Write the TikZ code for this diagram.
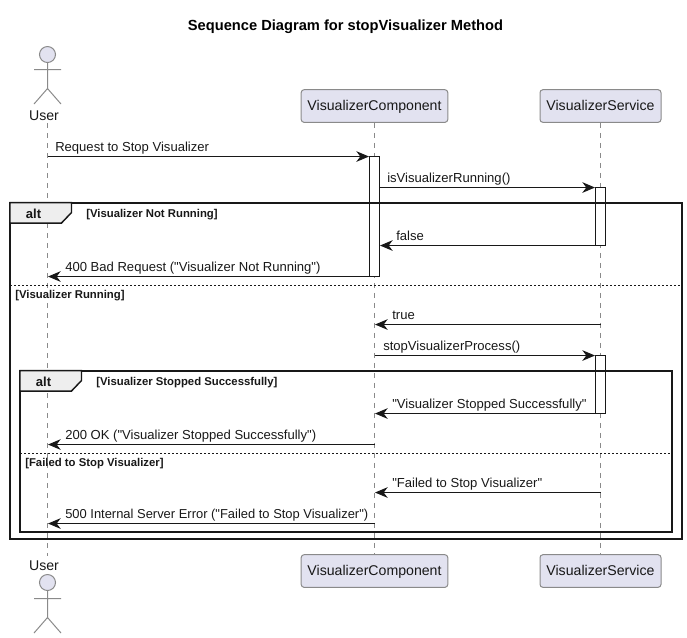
\documentclass[tikz,border=0pt]{standalone}
\usepackage{fontspec}
\setmainfont{Liberation Sans}[Ligatures=TeXOff]
\usetikzlibrary{arrows.meta}
\definecolor{headfill}{HTML}{E2E2F0}
\definecolor{headline}{HTML}{8A8A8A}
\definecolor{ink}{HTML}{181818}
\definecolor{tabfill}{HTML}{EEEEEE}
\tikzset{
  x=0.75pt,y=-0.75pt,
  head/.style={draw=headline,fill=headfill,rounded corners=2.2pt,line width=0.75pt,minimum height=24.5pt,inner sep=0pt,text height=8.2pt,text depth=1.4pt,font=\fontsize{10.6pt}{12pt}\selectfont,text=ink},
  life/.style={draw=headline,line width=0.75pt,dash pattern=on 3.75pt off 3.75pt},
  actorline/.style={draw=headline,line width=0.75pt},
  activ/.style={draw=ink,fill=white,line width=0.75pt,outer sep=0pt,inner sep=0pt,minimum width=7.5pt},
  msg/.style={draw=ink,line width=0.75pt,-{Stealth[length=9.5pt,width=8pt,inset=3pt]},shorten >=0.4pt},
  msglabel/.style={anchor=base west,inner sep=0pt,font=\fontsize{9.8pt}{12pt}\selectfont,text=ink},
  frameb/.style={draw=ink,line width=1.5pt},
  divider/.style={draw=ink,line width=0.75pt,dash pattern=on 1.5pt off 1.5pt},
  tabb/.style={draw=ink,fill=tabfill,line width=1.1pt},
  tabtext/.style={inner sep=0pt,font=\bfseries\fontsize{9.8pt}{12pt}\selectfont,text=ink},
  guard/.style={anchor=base west,inner sep=0pt,font=\bfseries\fontsize{8.5pt}{10pt}\selectfont,text=ink},
  actorname/.style={inner sep=0pt,font=\fontsize{10.6pt}{12pt}\selectfont,text=ink},
}
\begin{document}
\begin{tikzpicture}
\useasboundingbox (0,0) rectangle (687,638);
\begin{scope}[yshift=-0.4pt]
\node[inner sep=0pt,font=\bfseries\fontsize{11pt}{13pt}\selectfont] (title) at (345.5,26) {Sequence Diagram for stopVisualizer Method};

% heads
\node[head,minimum width=110pt] (compT) at (374.5,105.5) {VisualizerComponent};
\node[head,minimum width=90.75pt] (servT) at (600.5,105.5) {VisualizerService};
\node[head,minimum width=110pt] (compB) at (374.5,570.5) {VisualizerComponent};
\node[head,minimum width=90.75pt] (servB) at (600.5,570.5) {VisualizerService};
\node[actorname] (userT) at (44,115.5) {User};
\node[actorname] (userB) at (44,565.5) {User};

% lifelines
\draw[life] (compT) -- (compB);
\draw[life] (servT) -- (servB);
\draw[life] (userT.south -| 47.5,0) ++(0,2) coordinate (uTop) -- (47.5,555) coordinate (uBot);

% actors
\draw[actorline,fill=headfill] (47.5,54) circle (6pt);
\draw[actorline] (47.5,62) -- (47.5,88) (34,69) -- (61,69) (34,103.5) -- (47.5,88) -- (61,103.5);
\draw[actorline,fill=headfill] (47.5,582) circle (6pt);
\draw[actorline] (47.5,590) -- (47.5,617) (34,598) -- (61,598) (34,632.5) -- (47.5,617) -- (61,632.5);

% activations
\node[activ,minimum height=90pt] (a1) at (374.5,216) {};
\node[activ,minimum height=43.5pt] (a2) at (600.5,216) {};
\node[activ,minimum height=43.5pt] (a3) at (600.5,384) {};

% frames
\draw[frameb] (10,202) rectangle (682,538);
\draw[tabb] (10,202) -- (71.5,202) -- (71.5,212) -- (61.5,222.5) -- (10,222.5) -- cycle;
\node[tabtext] (alt1) at (33.5,213) {alt};
\node[guard] (g1) at (86,217) {[Visualizer Not Running]};
\draw[divider] (10,285) -- (682,285);
\node[guard] (g2) at (15,298) {[Visualizer Running]};

\draw[frameb] (20,370) rectangle (672,531);
\draw[tabb] (20,370) -- (81.5,370) -- (81.5,380) -- (71.5,390.5) -- (20,390.5) -- cycle;
\node[tabtext] (alt2) at (43.5,381.5) {alt};
\node[guard] (g3) at (96,385) {[Visualizer Stopped Successfully]};
\draw[divider] (20,453) -- (672,453);
\node[guard] (g4) at (25,466) {[Failed to Stop Visualizer]};

% message ends
\coordinate (u1) at (47.5,156);
\coordinate (u2) at (47.5,276);
\coordinate (u3) at (47.5,444);
\coordinate (u4) at (47.5,523);
\coordinate (c3) at (374.5,324);
\coordinate (c4) at (374.5,355);
\coordinate (c5) at (374.5,413);
\coordinate (c6) at (374.5,444);
\coordinate (c7) at (374.5,492);
\coordinate (c8) at (374.5,523);
\coordinate (s3) at (600.5,324);
\coordinate (s7) at (600.5,492);

% messages
\draw[msg] (u1) -- (u1 -| a1.west);
\node[msglabel] (l1) at (55,151) {Request to Stop Visualizer};
\draw[msg] (a1.east |- a2.north) -- (a2.north west);
\node[msglabel] (l2) at (387,182) {isVisualizerRunning()};
\draw[msg] (a2.south west) -- (a1.east |- a2.south);
\node[msglabel] (l3) at (396,240) {false};
\draw[msg] (a1.south west) -- (u2);
\node[msglabel] (l4) at (65,271) {400 Bad Request ("Visualizer Not Running")};
\draw[msg] (s3) -- (c3);
\node[msglabel] (l5) at (392,319) {true};
\draw[msg] (c4) -- (a3.north west);
\node[msglabel] (l6) at (383,350) {stopVisualizerProcess()};
\draw[msg] (a3.south west) -- (c5);
\node[msglabel] (l7) at (392,408) {"Visualizer Stopped Successfully"};
\draw[msg] (c6) -- (u3);
\node[msglabel] (l8) at (65,439) {200 OK ("Visualizer Stopped Successfully")};
\draw[msg] (s7) -- (c7);
\node[msglabel] (l9) at (392,487) {"Failed to Stop Visualizer"};
\draw[msg] (c8) -- (u4);
\node[msglabel,font=\fontsize{9.7pt}{12pt}\selectfont] (l10) at (65,518) {500 Internal Server Error ("Failed to Stop Visualizer")};
\end{scope}
\end{tikzpicture}
\end{document}
